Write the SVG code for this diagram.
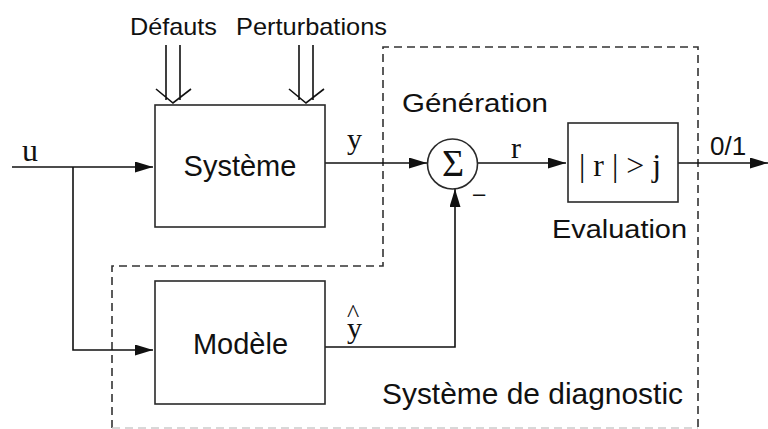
<svg xmlns="http://www.w3.org/2000/svg" width="768" height="429" viewBox="0 0 768 429">
<defs>
<style>
.box{fill:#fff;stroke:#2a2a2a;stroke-width:1.6}
.ln{fill:none;stroke:#111;stroke-width:1.6}
.dash{fill:none;stroke:#333;stroke-width:1.6;stroke-dasharray:8 5}
.sans{font-family:"Liberation Sans",Arial,sans-serif;fill:#111}
.serif{font-family:"Liberation Serif","Times New Roman",serif;fill:#111}
</style>
<marker id="arr" markerUnits="userSpaceOnUse" markerWidth="18" markerHeight="11" refX="18" refY="5.5" orient="auto">
<path d="M0,0 L18,5.5 L0,11 z" fill="#111"/>
</marker>
</defs>
<rect width="768" height="429" fill="#fff"/>

<g id="diagnostic-frame">
<path class="dash" d="M112 428 V266 H383 V47 H698 V429"/>
<path d="M112 428 H698" fill="none" stroke="#ccc" stroke-width="1.5" stroke-dasharray="8 5"/>
<text class="sans" x="382" y="404" font-size="29" textLength="301" lengthAdjust="spacingAndGlyphs">Système de diagnostic</text>
<text class="sans" x="402" y="112" font-size="26" textLength="146" lengthAdjust="spacingAndGlyphs">Génération</text>
</g>

<g id="inputs">
<text class="sans" x="130" y="35" font-size="24" textLength="87" lengthAdjust="spacingAndGlyphs">Défauts</text>
<text class="sans" x="236" y="35" font-size="24" textLength="151" lengthAdjust="spacingAndGlyphs">Perturbations</text>
</g>

<g id="connectors">
<path class="ln" d="M12 167 H153" marker-end="url(#arr)"/>
<path class="ln" d="M73 167 V350 H153" marker-end="url(#arr)"/>
<path class="ln" d="M325 163 H427" marker-end="url(#arr)"/>
<path class="ln" d="M478 163 H566" marker-end="url(#arr)"/>
<path class="ln" d="M678 163 H768" marker-end="url(#arr)"/>
<path class="ln" d="M325 347 H455 V189" marker-end="url(#arr)"/>
<path class="ln" d="M166 45 V100 M180 45 V100 M156 89 L173 103 L191 89"/>
<path class="ln" d="M299 45 V100 M313 45 V100 M289 89 L306 103 L324 89"/>
<text class="serif" x="22" y="161" font-size="32">u</text>
<text class="serif" x="347" y="149" font-size="30">y</text>
<text class="serif" x="511" y="158" font-size="30">r</text>
<text class="serif" font-size="30"><tspan x="347" y="322" font-size="26">^</tspan><tspan x="347" y="338">y</tspan></text>
<text class="sans" x="710" y="155" font-size="26">0/1</text>
</g>

<g id="systeme">
<rect class="box" x="155" y="105" width="170" height="122"/>
<text class="sans" x="240" y="176" font-size="29" text-anchor="middle">Système</text>
</g>

<g id="modele">
<rect class="box" x="155" y="281" width="170" height="123"/>
<text class="sans" x="240.5" y="354" font-size="29" text-anchor="middle">Modèle</text>
</g>

<g id="sommateur">
<circle class="box" cx="452.5" cy="164" r="25"/>
<text class="serif" x="453" y="176" font-size="38" text-anchor="middle">Σ</text>
<text class="sans" x="473" y="201" font-size="22">–</text>
</g>

<g id="evaluation">
<rect class="box" x="568" y="123" width="110" height="79"/>
<text class="serif" x="579" y="176" font-size="31" textLength="82" lengthAdjust="spacingAndGlyphs">| r | &gt; j</text>
<text class="sans" x="552" y="238" font-size="26" textLength="135" lengthAdjust="spacingAndGlyphs">Evaluation</text>
</g>
</svg>
